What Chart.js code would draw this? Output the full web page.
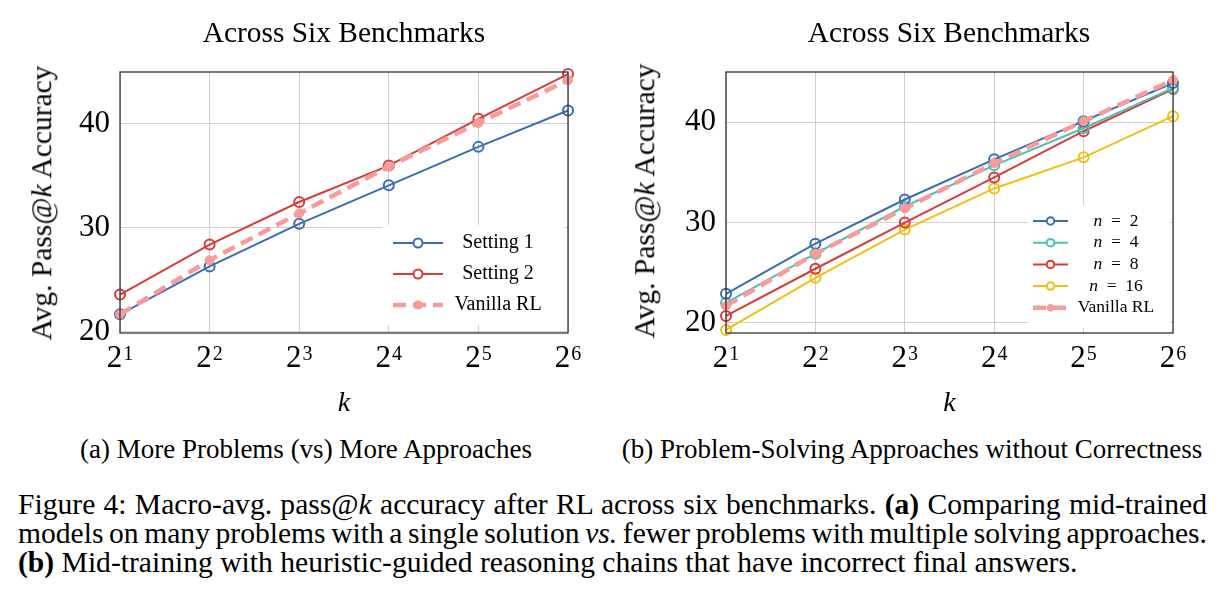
<!DOCTYPE html>
<html>
<head>
<meta charset="utf-8">
<script src="https://cdn.jsdelivr.net/npm/chart.js@4.4.0/dist/chart.umd.min.js"></script>
<style>
  body { margin: 0; background: #fff; }
  #page { position: relative; width: 1225px; height: 599px; overflow: hidden;
          font-family: 'Liberation Serif', 'Times New Roman', serif; color: #000; }
  canvas { position: absolute; top: 0; }
  .title { position: absolute; top: 18px; font-size: 29.4px; line-height: 1; white-space: nowrap; transform: translateX(-50%); }
  .ylabel { position: absolute; font-size: 29.5px; line-height: 1; white-space: nowrap;
            transform: translate(-50%, -50%) rotate(-90deg); }
  .sub { position: absolute; top: 436px; font-size: 27px; line-height: 1; white-space: nowrap; transform: translateX(-50%); }
  .cap { position: absolute; left: 18px; font-size: 29.6px; line-height: 1; white-space: nowrap; }
</style>
</head>
<body>
<div id="page">
  <canvas id="chart-a" width="600" height="425" style="left:0px"></canvas>
  <canvas id="chart-b" width="600" height="425" style="left:610px"></canvas>

  <div class="title" style="left:344px">Across Six Benchmarks</div>
  <div class="title" style="left:949px">Across Six Benchmarks</div>
  <div class="ylabel" style="left:42px; top:203px">Avg. Pass@<i>k</i> Accuracy</div>
  <div class="ylabel" style="left:645px; top:201px">Avg. Pass@<i>k</i> Accuracy</div>

  <div class="sub" style="left:306px">(a) More Problems (vs) More Approaches</div>
  <div class="sub" style="left:912px">(b) Problem-Solving Approaches without Correctness</div>

  <div class="cap just" style="top:490px">Figure 4: Macro-avg. pass@<i>k</i> accuracy after RL across six benchmarks. <b>(a)</b> Comparing mid-trained</div>
  <div class="cap just" style="top:519px">models on many problems with a single solution <i>vs.</i> fewer problems with multiple solving approaches.</div>
  <div class="cap" style="top:548px"><b>(b)</b> Mid-training with heuristic-guided reasoning chains that have incorrect final answers.</div>
</div>

<script>
// x axis: k = 2^e
const kExp = [1, 2, 3, 4, 5, 6];
const yTicks = [20, 30, 40];

// (a) more problems vs more approaches
const setting1 = [21.7, 26.3, 30.4, 34.1, 37.8, 41.3];
const setting2 = [23.6, 28.4, 32.5, 36.0, 40.5, 44.8];

// (b) approaches without correctness
const n2  = [22.9, 27.9, 32.3, 36.3, 40.1, 43.9];
const n4  = [22.0, 26.9, 31.6, 35.7, 39.4, 43.4];
const n8  = [20.7, 25.4, 30.0, 34.5, 39.1, 43.3];
const n16 = [19.3, 24.5, 29.3, 33.4, 36.5, 40.6];

// baseline shared by both panels
const vanilla = [21.7, 26.9, 31.4, 35.9, 40.1, 44.2];

const SERIF = "'Liberation Serif', 'Times New Roman', serif";
const COLORS = {
  blue:   '#3b6db5',
  red:    '#d93b3b',
  pink:   '#f79b9b',
  teal:   '#4cc1b1',
  yellow: '#f2c012',
};
const gridColor = '#cfcfcf';

// justify caption lines to the text block width
const CAP_WIDTH = 1189;
document.querySelectorAll('.cap.just').forEach(el => {
  const natural = el.getBoundingClientRect().width;
  const spaces = (el.textContent.match(/ /g) || []).length;
  el.style.wordSpacing = ((CAP_WIDTH - natural) / spaces) + 'px';
});

function openSeries(label, data, color, order) {
  return {
    label, data, order,
    borderColor: color,
    borderWidth: 2,
    pointRadius: 5,
    pointHoverRadius: 5,
    pointBorderWidth: 2,
    pointBorderColor: color,
    pointBackgroundColor: 'rgba(255,255,255,0)',
    tension: 0,
    clip: false,
  };
}

function vanillaSeries() {
  return {
    label: 'Vanilla RL',
    data: vanilla,
    order: 0,
    borderColor: COLORS.pink,
    borderWidth: 4.5,
    borderDash: [13, 7],
    pointRadius: 4.5,
    pointHoverRadius: 4.5,
    pointBorderWidth: 1,
    pointBorderColor: COLORS.pink,
    pointBackgroundColor: COLORS.pink,
    filled: true,
    tension: 0,
    clip: false,
  };
}

// box around the plot area (pgfplots style)
const frame = {
  id: 'frame',
  afterDraw(chart) {
    const { ctx, chartArea: a } = chart;
    ctx.save();
    ctx.strokeStyle = '#333';
    ctx.lineWidth = 1.3;
    ctx.strokeRect(a.left, a.top, a.right - a.left, a.bottom - a.top);
    ctx.restore();
  }
};

// x tick labels drawn as 2 with a raised exponent
const powTicks = {
  id: 'powTicks',
  afterDraw(chart) {
    const { ctx } = chart;
    const x = chart.scales.x;
    const base = x.top + 34;
    ctx.save();
    ctx.fillStyle = '#000';
    ctx.textAlign = 'left';
    ctx.textBaseline = 'alphabetic';
    kExp.forEach((e, i) => {
      const px = x.getPixelForValue(i);
      ctx.font = `31px ${SERIF}`;
      const w1 = ctx.measureText('2').width;
      ctx.font = `20px ${SERIF}`;
      const w2 = ctx.measureText(String(e)).width;
      const x0 = px - (w1 + 1 + w2) / 2;
      ctx.font = `31px ${SERIF}`;
      ctx.fillText('2', x0, base);
      ctx.font = `20px ${SERIF}`;
      ctx.fillText(String(e), x0 + w1 + 1, base - 7);
    });
    ctx.restore();
  }
};

// legend boxed inside the plot, lower right
const boxLegend = {
  id: 'boxLegend',
  afterDatasetsDraw(chart, args, opts) {
    const { ctx, chartArea: a } = chart;
    const bx = a.left + opts.x, by = a.top + opts.y;
    ctx.save();
    ctx.fillStyle = '#fff';
    ctx.fillRect(bx, by, opts.w, opts.h);
    chart.data.datasets.forEach((ds, i) => {
      const cy = by + opts.row0 + i * opts.rowGap;
      const x0 = bx + opts.sx0, x1 = bx + opts.sx1;
      ctx.strokeStyle = ds.borderColor;
      ctx.lineWidth = ds.borderWidth;
      ctx.setLineDash(ds.borderDash || []);
      ctx.beginPath(); ctx.moveTo(x0, cy); ctx.lineTo(x1, cy); ctx.stroke();
      ctx.setLineDash([]);

      ctx.beginPath();
      ctx.arc((x0 + x1) / 2, cy, ds.pointRadius * opts.markScale, 0, Math.PI * 2);
      ctx.fillStyle = ds.filled ? ds.pointBackgroundColor : '#fff';
      ctx.fill();
      ctx.lineWidth = ds.pointBorderWidth;
      ctx.strokeStyle = ds.pointBorderColor;
      ctx.stroke();

      // label, italic n for the n = ... entries
      ctx.fillStyle = '#000';
      ctx.textBaseline = 'middle';
      ctx.textAlign = 'left';
      const tx = bx + opts.tx;
      if (ds.label.startsWith('n=')) {
        const rest = '\u2002=\u2002' + ds.label.slice(2);
        ctx.font = `italic ${opts.fontSize}px ${SERIF}`;
        const wn = ctx.measureText('n').width;
        ctx.font = `${opts.fontSize}px ${SERIF}`;
        const wr = ctx.measureText(rest).width;
        const start = tx - (wn + wr) / 2;
        ctx.font = `italic ${opts.fontSize}px ${SERIF}`;
        ctx.fillText('n', start, cy);
        ctx.font = `${opts.fontSize}px ${SERIF}`;
        ctx.fillText(rest, start + wn, cy);
      } else {
        ctx.font = `${opts.fontSize}px ${SERIF}`;
        const w = ctx.measureText(ds.label).width;
        ctx.fillText(ds.label, tx - w / 2, cy);
      }
    });
    ctx.restore();
  }
};

function scalesFor(yMin, yWidth) {
  return {
    x: {
      type: 'category',
      offset: false,
      grid: { color: gridColor, lineWidth: 1, drawTicks: false },
      border: { display: false },
      ticks: { display: false },
      title: {
        display: true, text: 'k', color: '#000',
        font: { family: SERIF, size: 28, style: 'italic' },
        padding: { top: 0, bottom: 5 }
      },
      afterFit: s => { s.height = 92; }
    },
    y: {
      min: yMin,
      max: 45,
      grid: { color: gridColor, lineWidth: 1, drawTicks: false },
      border: { display: false },
      ticks: { color: '#000', padding: 10, font: { family: SERIF, size: 31 } },
      afterBuildTicks: s => { s.ticks = yTicks.map(v => ({ value: v })); },
      afterFit: s => { s.width = yWidth; }
    }
  };
}

function makeChart(id, datasets, yMin, yWidth, padRight, legendOpts) {
  const ctx = document.getElementById(id).getContext('2d');
  return new Chart(ctx, {
    type: 'line',
    data: { labels: kExp.map(String), datasets },
    options: {
      responsive: false,
      animation: false,
      layout: { padding: { top: 72, right: padRight, left: 0, bottom: 0 } },
      plugins: {
        legend: { display: false },
        tooltip: { enabled: false },
        boxLegend: legendOpts
      },
      scales: scalesFor(yMin, yWidth)
    },
    plugins: [boxLegend, powTicks, frame]
  });
}

makeChart('chart-a', [
  openSeries('Setting 1', setting1, COLORS.blue, 2),
  openSeries('Setting 2', setting2, COLORS.red, 1),
  vanillaSeries()
], 19.9, 120, 32, {
  x: 262, y: 153, w: 183, h: 100,
  row0: 18, rowGap: 31, sx0: 11, sx1: 61, tx: 116,
  fontSize: 20, markScale: 0.9
});

makeChart('chart-b', [
  openSeries('n=2', n2, COLORS.blue, 1),
  openSeries('n=4', n4, COLORS.teal, 2),
  openSeries('n=8', n8, COLORS.red, 3),
  openSeries('n=16', n16, COLORS.yellow, 4),
  vanillaSeries()
], 19, 116, 37, {
  x: 302, y: 133, w: 142, h: 123,
  row0: 16, rowGap: 21.7, sx0: 5, sx1: 40, tx: 88,
  fontSize: 17.5, markScale: 0.75
});
</script>
</body>
</html>
